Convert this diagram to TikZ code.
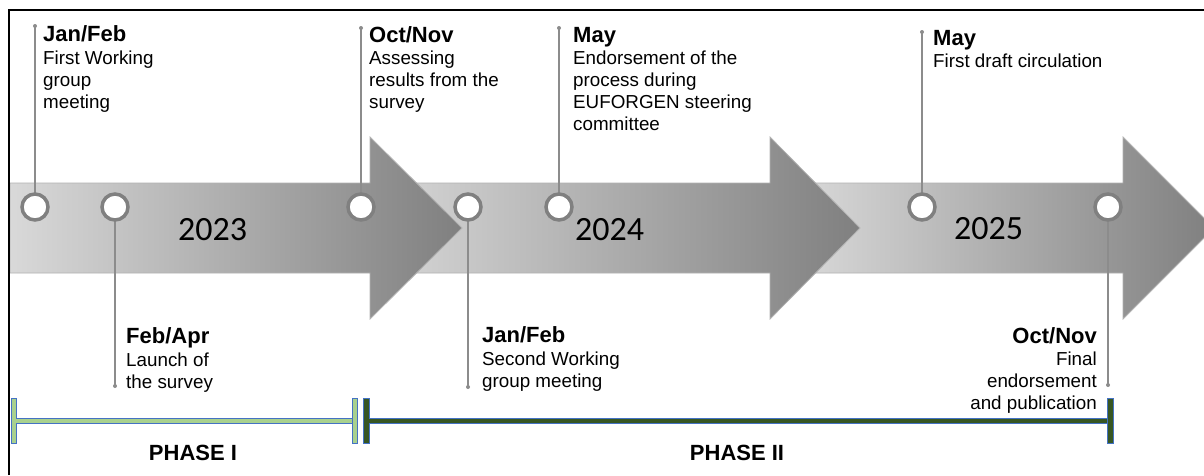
\documentclass[tikz,border=0pt]{standalone}
\usepackage{fontspec}
\setmainfont{Liberation Sans}
\newfontfamily\yearfont{Carlito}
\definecolor{linegray}{HTML}{8C8C8C}
\definecolor{ringgray}{HTML}{808080}
\definecolor{lgreen}{HTML}{A9D18E}
\definecolor{dgreen}{HTML}{375623}
\definecolor{pblue}{HTML}{4472C4}
\begin{document}
\begin{tikzpicture}[x=1pt,y=-1pt,
  arrowshape/.style={left color=gray!30, right color=gray!100, draw=gray!60, line width=0.8pt},
  ring/.style={circle, minimum size=26pt, inner sep=0pt, line width=3.5pt, draw=ringgray, fill=white},
  dot/.style={circle, fill=linegray, inner sep=0pt, minimum size=4pt},
  conn/.style={draw=linegray, line width=1.5pt},
  title/.style={font=\fontsize{22}{24}\selectfont\bfseries, inner sep=0pt, anchor=base west},
  body/.style={font=\fontsize{18.8}{22}\selectfont, inner sep=0pt, align=left, anchor=north west},
  year/.style={font=\yearfont\fontsize{34}{36}\selectfont, inner sep=0pt, anchor=base west},
  phasetitle/.style={font=\fontsize{22}{24}\selectfont\bfseries, inner sep=0pt, anchor=base},
  tickI/.style={rectangle, minimum width=5pt, minimum height=45pt, inner sep=0pt, fill=lgreen, draw=pblue, line width=0.8pt},
  tickII/.style={rectangle, minimum width=6pt, minimum height=45pt, inner sep=0pt, fill=dgreen, draw=pblue, line width=0.8pt}
]
\useasboundingbox (0,0) rectangle (1204,475);
\clip (0,0) rectangle (1204,475);
\fill[white] (0,0) rectangle (1204,475);

% arrows (back to front)
\path[arrowshape] (800,183) -- (1123,183) -- (1123,137) -- (1214,228) -- (1123,319) -- (1123,273) -- (800,273) -- cycle;
\path[arrowshape] (370,183) -- (770,183) -- (770,137) -- (860,228) -- (770,319) -- (770,273) -- (370,273) -- cycle;
\path[arrowshape] (10,183) -- (370,183) -- (370,137) -- (462,228) -- (370,319) -- (370,273) -- (10,273) -- cycle;

% frame
\draw[black, line width=2pt] (9,475) -- (9,10) -- (1204,10);

% years
\node[year] (y1) at (178,240) {2023};
\node[year] (y2) at (575,240) {2024};
\node[year] (y3) at (954,239) {2025};

% end dots
\node[dot] (d1) at (35,26) {};
\node[dot] (d2) at (115,386) {};
\node[dot] (d3) at (361,28) {};
\node[dot] (d4) at (468,387) {};
\node[dot] (d5) at (559,28) {};
\node[dot] (d6) at (922,32) {};
\node[dot] (d7) at (1108,385) {};

% circles positions
\coordinate (k1) at (35,207);
\coordinate (k2) at (115,207);
\coordinate (k3) at (361,207);
\coordinate (k4) at (468,207);
\coordinate (k5) at (559,207);
\coordinate (k6) at (922,207);
\coordinate (k7) at (1108,207);

\foreach \i in {1,...,7} {\draw[conn] (d\i.center) -- (k\i);}
\foreach \i in {1,...,7} {\node[ring] (c\i) at (k\i) {};}

% upper labels
\node[title] (t1) at (43,41) {Jan/Feb};
\node[body] (b1) at (43,50.3) {First Working\\group\\meeting};
\node[title] (t3) at (369,42) {Oct/Nov};
\node[body] (b3) at (369,50.3) {Assessing\\results from the\\survey};
\node[title] (t5) at (573,42) {May};
\node[body] (b5) at (573,50.3) {Endorsement of the\\process during\\EUFORGEN steering\\committee};
\node[title] (t6) at (933,45) {May};
\node[body] (b6) at (933,53.3) {First draft circulation};

% lower labels
\node[title] (t2) at (126,343) {Feb/Apr};
\node[body] (b2) at (126,352.3) {Launch of\\the survey};
\node[title] (t4) at (482,342) {Jan/Feb};
\node[body] (b4) at (482,351.3) {Second Working\\group meeting};
\node[title, anchor=base east] (t7) at (1097,343) {Oct/Nov};
\node[body, anchor=north east, align=right] (b7) at (1097,351.3) {Final\\endorsement\\and publication};

% phases
\node[tickI] (p1a) at (13.5,420.5) {};
\node[tickI] (p1b) at (354.5,420.5) {};
\node[tickII] (p2a) at (366,420.5) {};
\node[tickII] (p2b) at (1110,420.5) {};
\draw[pblue, line width=6pt] (p1a.east) -- (p1b.west);
\draw[lgreen, line width=4pt] (p1a.east) -- (p1b.west);
\draw[pblue, line width=6pt] (p2a.east) -- (p2b.west);
\draw[dgreen, line width=4pt] (p2a.east) -- (p2b.west);
\node[phasetitle] (ph1) at (193,460) {PHASE I};
\node[phasetitle] (ph2) at (737,460) {PHASE II};
\end{tikzpicture}
\end{document}
